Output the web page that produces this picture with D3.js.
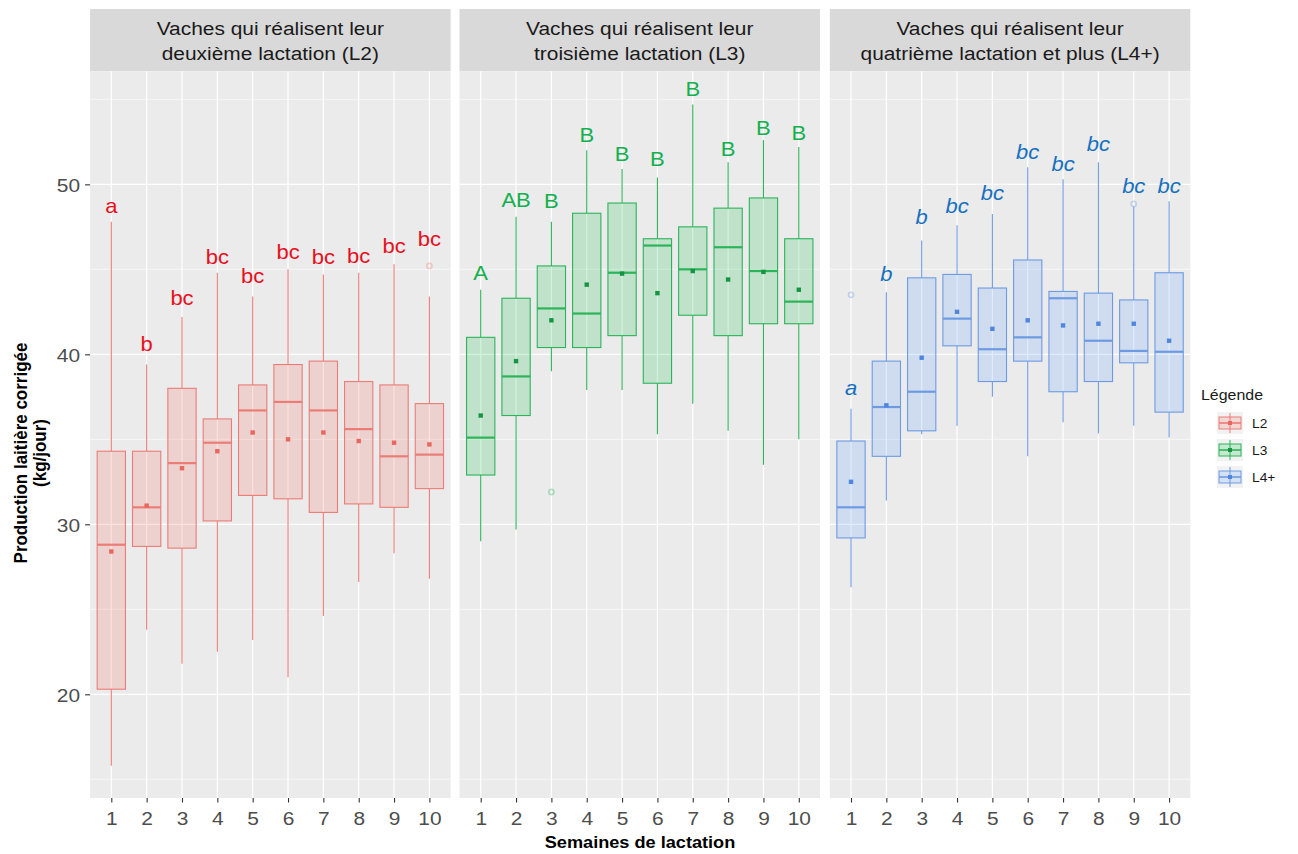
<!DOCTYPE html>
<html>
<head>
<meta charset="utf-8">
<script src="https://cdn.jsdelivr.net/npm/d3@7"></script>
<style>
  html, body { margin: 0; padding: 0; background: #ffffff; }
  svg { display: block; font-family: "Liberation Sans", Arial, sans-serif; }
</style>
</head>
<body>
<svg id="chart" width="1298" height="854"></svg>
<script>
// Weekly corrected milk yield by lactation rank — box plots per week, with means and letter groups.

const weeks = ["1", "2", "3", "4", "5", "6", "7", "8", "9", "10"];
const seriesNames = ["L2", "L3", "L4+"];
const stripTitles = [
  ["Vaches qui réalisent leur", "deuxième lactation (L2)"],
  ["Vaches qui réalisent leur", "troisième lactation (L3)"],
  ["Vaches qui réalisent leur", "quatrième lactation et plus (L4+)"]
];
const yMajorTicks = [20, 30, 40, 50];
const yMinorTicks = [15, 25, 35, 45, 55];

// L2 — second lactation
const lowL2    = [15.8, 23.8, 21.8, 22.5, 23.2, 21.0, 24.6, 26.6, 28.3, 26.8];
const q1L2     = [20.3, 28.7, 28.6, 30.2, 31.7, 31.5, 30.7, 31.2, 31.0, 32.1];
const medianL2 = [28.8, 31.0, 33.6, 34.8, 36.7, 37.2, 36.7, 35.6, 34.0, 34.1];
const q3L2     = [34.3, 34.3, 38.0, 36.2, 38.2, 39.4, 39.6, 38.4, 38.2, 37.1];
const highL2   = [47.8, 39.4, 42.2, 44.8, 43.4, 45.0, 44.7, 44.8, 45.3, 43.4];
const meanL2   = [28.4, 31.1, 33.3, 34.3, 35.4, 35.0, 35.4, 34.9, 34.8, 34.7];
const outliersL2 = [{ week: "10", value: 45.2 }];
const lettersL2  = ["a", "b", "bc", "bc", "bc", "bc", "bc", "bc", "bc", "bc"];
const letterPosL2 = [48.7, 40.6, 43.3, 45.7, 44.6, 46.0, 45.7, 45.8, 46.4, 46.8];

// L3 — third lactation
const lowL3    = [29.0, 29.7, 39.0, 37.9, 37.9, 35.3, 37.1, 35.5, 33.5, 35.0];
const q1L3     = [32.9, 36.4, 40.4, 40.4, 41.1, 38.3, 42.3, 41.1, 41.8, 41.8];
const medianL3 = [35.1, 38.7, 42.7, 42.4, 44.8, 46.4, 45.0, 46.3, 44.9, 43.1];
const q3L3     = [41.0, 43.3, 45.2, 48.3, 48.9, 46.8, 47.5, 48.6, 49.2, 46.8];
const highL3   = [43.8, 48.1, 47.8, 52.0, 50.9, 50.4, 54.7, 51.3, 52.6, 52.2];
const meanL3   = [36.4, 39.6, 42.0, 44.1, 44.75, 43.6, 44.9, 44.4, 44.85, 43.8];
const outliersL3 = [{ week: "3", value: 31.9 }];
const lettersL3  = ["A", "AB", "B", "B", "B", "B", "B", "B", "B", "B"];
const letterPosL3 = [44.8, 49.1, 49.0, 52.9, 51.8, 51.5, 55.6, 52.1, 53.3, 53.0];

// L4+ — fourth lactation and more
const lowL4    = [26.3, 31.4, 35.3, 35.8, 37.5, 34.0, 36.0, 35.35, 35.8, 35.1];
const q1L4     = [29.2, 34.0, 35.5, 40.5, 38.4, 39.6, 37.8, 38.4, 39.5, 36.6];
const medianL4 = [31.0, 36.9, 37.8, 42.1, 40.3, 41.0, 43.3, 40.8, 40.2, 40.15];
const q3L4     = [34.9, 39.6, 44.5, 44.7, 43.9, 45.55, 43.7, 43.6, 43.2, 44.8];
const highL4   = [36.8, 43.65, 46.7, 47.6, 48.25, 51.0, 50.3, 51.3, 48.7, 49.0];
const meanL4   = [32.5, 37.0, 39.8, 42.5, 41.5, 42.0, 41.7, 41.8, 41.8, 40.8];
const outliersL4 = [{ week: "1", value: 43.5 }, { week: "9", value: 48.85 }];
const lettersL4  = ["a", "b", "b", "bc", "bc", "bc", "bc", "bc", "bc", "bc"];
const letterPosL4 = [38.0, 44.7, 48.1, 48.7, 49.5, 51.9, 51.2, 52.35, 49.9, 49.9];

// ---- assemble per-panel records ----
function buildBoxes(low, q1, med, q3, high, mean) {
  return weeks.map((w, i) => ({ week: w, low: low[i], q1: q1[i], med: med[i], q3: q3[i], high: high[i], mean: mean[i] }));
}
const panels = [
  { name: seriesNames[0], boxes: buildBoxes(lowL2, q1L2, medianL2, q3L2, highL2, meanL2), outliers: outliersL2, letters: lettersL2, letterPos: letterPosL2,
    line: "#eb7c76", fill: "rgba(248,118,109,0.22)", point: "#e8685f", letterColor: "#e8101e", italic: false },
  { name: seriesNames[1], boxes: buildBoxes(lowL3, q1L3, medianL3, q3L3, highL3, meanL3), outliers: outliersL3, letters: lettersL3, letterPos: letterPosL3,
    line: "#2bb45a", fill: "rgba(0,186,56,0.18)", point: "#159443", letterColor: "#12b04e", italic: false },
  { name: seriesNames[2], boxes: buildBoxes(lowL4, q1L4, medianL4, q3L4, highL4, meanL4), outliers: outliersL4, letters: lettersL4, letterPos: letterPosL4,
    line: "#6d9be3", fill: "rgba(97,156,255,0.2)", point: "#4f86de", letterColor: "#1670c0", italic: true }
];

// ---- layout ----
const svg = d3.select("#chart");
const stretch = 1.1;            // horizontal text stretch
const panelLeft = [90.1, 459.5, 829.8];
const panelW = 360.5;
const plotTop = 71.3, plotBottom = 798, stripTop = 9;

const y = d3.scaleLinear().domain([13.9, 56.65]).range([plotBottom, plotTop]);

svg.append("rect").attr("width", 1298).attr("height", 854).attr("fill", "#ffffff");

function stretchedText(parent, x, yPos, str, opts) {
  const t = parent.append("text")
    .attr("transform", `translate(${x},${yPos}) scale(${stretch},1)`)
    .attr("text-anchor", opts.anchor || "middle")
    .attr("font-size", opts.size)
    .attr("fill", opts.color || "#000")
    .text(str);
  if (opts.weight) t.attr("font-weight", opts.weight);
  if (opts.italic) t.attr("font-style", "italic");
  return t;
}

panels.forEach((p, pi) => {
  const left = panelLeft[pi];
  const x = d3.scalePoint().domain(weeks).range([left, left + panelW]).padding(0.6);
  const bw = x.step() * 0.8;
  const g = svg.append("g");

  // strip
  g.append("rect").attr("x", left).attr("y", stripTop).attr("width", panelW).attr("height", plotTop - stripTop).attr("fill", "#d9d9d9");
  stripTitles[pi].forEach((line, li) => {
    stretchedText(g, left + panelW / 2, 34.5 + li * 25, line, { size: 19, color: "#1a1a1a" });
  });

  // panel background and grid
  g.append("rect").attr("x", left).attr("y", plotTop).attr("width", panelW).attr("height", plotBottom - plotTop).attr("fill", "#ebebeb");
  g.selectAll(".minor").data(yMinorTicks).join("line")
    .attr("x1", left).attr("x2", left + panelW)
    .attr("y1", d => y(d)).attr("y2", d => y(d))
    .attr("stroke", "#ffffff").attr("stroke-width", 0.6);
  g.selectAll(".major").data(yMajorTicks).join("line")
    .attr("x1", left).attr("x2", left + panelW)
    .attr("y1", d => y(d)).attr("y2", d => y(d))
    .attr("stroke", "#ffffff").attr("stroke-width", 1.2);
  g.selectAll(".vgrid").data(weeks).join("line")
    .attr("x1", d => x(d)).attr("x2", d => x(d))
    .attr("y1", plotTop).attr("y2", plotBottom)
    .attr("stroke", "#ffffff").attr("stroke-width", 1.2);

  // whiskers
  const bx = g.selectAll(".box").data(p.boxes).join("g");
  bx.append("line")
    .attr("x1", d => x(d.week)).attr("x2", d => x(d.week))
    .attr("y1", d => y(d.high)).attr("y2", d => y(d.q3))
    .attr("stroke", p.line).attr("stroke-width", 1.1);
  bx.append("line")
    .attr("x1", d => x(d.week)).attr("x2", d => x(d.week))
    .attr("y1", d => y(d.q1)).attr("y2", d => y(d.low))
    .attr("stroke", p.line).attr("stroke-width", 1.1);
  // boxes
  bx.append("rect")
    .attr("x", d => x(d.week) - bw / 2).attr("width", bw)
    .attr("y", d => y(d.q3)).attr("height", d => y(d.q1) - y(d.q3))
    .attr("fill", p.fill).attr("stroke", p.line).attr("stroke-width", 1.1);
  // medians
  bx.append("line")
    .attr("x1", d => x(d.week) - bw / 2).attr("x2", d => x(d.week) + bw / 2)
    .attr("y1", d => y(d.med)).attr("y2", d => y(d.med))
    .attr("stroke", p.line).attr("stroke-width", 2.2);
  // means
  bx.append("rect")
    .attr("x", d => x(d.week) - 2.2).attr("y", d => y(d.mean) - 2.2)
    .attr("width", 4.4).attr("height", 4.4)
    .attr("fill", p.point);

  // outliers
  g.selectAll(".outlier").data(p.outliers).join("circle")
    .attr("cx", d => x(d.week)).attr("cy", d => y(d.value)).attr("r", 2.6)
    .attr("fill", "none").attr("stroke", p.line).attr("stroke-opacity", 0.35).attr("stroke-width", 1.6);

  // significance letters
  p.letters.forEach((txt, i) => {
    stretchedText(g, x(weeks[i]), y(p.letterPos[i]) + 7, txt, { size: 20, color: p.letterColor, italic: p.italic });
  });

  // x axis
  const xAxis = g.append("g").attr("transform", `translate(0,${plotBottom})`)
    .call(d3.axisBottom(x).tickSize(4.5).tickPadding(8.5));
  xAxis.select(".domain").remove();
  xAxis.selectAll("line").attr("stroke", "#333333").attr("stroke-width", 1.1);
  xAxis.selectAll("text").each(function () {
    const t = d3.select(this);
    const ty = +t.attr("y");
    t.attr("y", null).attr("dy", null)
      .attr("transform", `translate(0,${ty + 13.5}) scale(${stretch},1)`)
      .attr("font-size", 19).attr("fill", "#4d4d4d").attr("font-family", null);
  });

  // y axis on the first panel only
  if (pi === 0) {
    const yAxis = g.append("g").attr("transform", `translate(${left},0)`)
      .call(d3.axisLeft(y).tickValues(yMajorTicks).tickSize(5).tickPadding(5));
    yAxis.select(".domain").remove();
    yAxis.selectAll("line").attr("stroke", "#333333").attr("stroke-width", 1.1);
    yAxis.selectAll("text").each(function () {
      const t = d3.select(this);
      const tx = +t.attr("x");
      t.attr("x", null).attr("dy", null)
        .attr("transform", `translate(${tx},6.8) scale(${stretch},1)`)
        .attr("font-size", 19).attr("fill", "#4d4d4d").attr("font-family", null);
    });
  }
});

// axis titles
stretchedText(svg, 640, 848, "Semaines de lactation", { size: 16.5, weight: "bold", color: "#000" });
const yTitle = svg.append("g").attr("transform", "translate(0,453)");
["Production laitière corrigée", "(kg/jour)"].forEach((line, i) => {
  yTitle.append("text")
    .attr("transform", `translate(${26.5 + i * 19.5},0) rotate(-90) scale(1,${stretch})`)
    .attr("text-anchor", "middle").attr("font-size", 17).attr("font-weight", "bold").attr("fill", "#000")
    .text(line);
});

// legend
const legend = svg.append("g");
stretchedText(legend, 1201, 400, "Légende", { size: 14.5, anchor: "start", color: "#1a1a1a" });
panels.forEach((p, i) => {
  const cy = 423 + i * 27;
  const kx = 1230;
  const k = legend.append("g");
  k.append("rect").attr("x", kx - 13).attr("y", cy - 11).attr("width", 26).attr("height", 22).attr("fill", "#f2f2f2");
  k.append("line").attr("x1", kx).attr("x2", kx).attr("y1", cy - 10).attr("y2", cy + 10).attr("stroke", p.line).attr("stroke-width", 1);
  k.append("rect").attr("x", kx - 11).attr("y", cy - 6).attr("width", 22).attr("height", 12)
    .attr("fill", p.fill).attr("stroke", p.line).attr("stroke-width", 1);
  k.append("line").attr("x1", kx - 11).attr("x2", kx + 11).attr("y1", cy).attr("y2", cy).attr("stroke", p.line).attr("stroke-width", 1.6);
  k.append("rect").attr("x", kx - 2).attr("y", cy - 2).attr("width", 4).attr("height", 4).attr("fill", p.point);
  stretchedText(legend, 1252, cy + 4.5, p.name, { size: 12.5, anchor: "start", color: "#1a1a1a" });
});
</script>
</body>
</html>
